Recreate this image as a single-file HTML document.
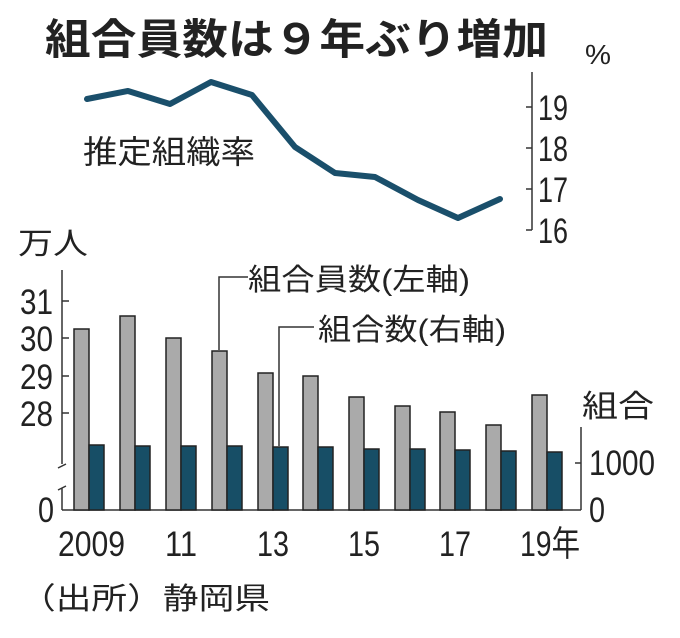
<!DOCTYPE html><html><head><meta charset="utf-8"><style>
body{margin:0;background:#fff}
svg text{font-family:"Liberation Sans","Noto Sans CJK JP",sans-serif;fill:#222}
</style></head><body>
<svg width="680" height="633" viewBox="0 0 680 633" xmlns="http://www.w3.org/2000/svg">
<text x="45" y="54" font-size="42" font-weight="bold" fill="#111" textLength="503" lengthAdjust="spacingAndGlyphs">組合員数は９年ぶり増加</text>
<text x="585" y="64" font-size="28" textLength="26" lengthAdjust="spacingAndGlyphs">%</text>
<polyline fill="none" stroke="#1a4f6b" stroke-width="6" stroke-linejoin="round" stroke-linecap="round" points="87,99 128,91 170,104 211,82 252,95 295,147 335,173 375,177 418,200 458,218 500,199"/>
<text x="83" y="163" font-size="32" textLength="172" lengthAdjust="spacingAndGlyphs">推定組織率</text>
<g stroke="#333" stroke-width="1.5"><line x1="532" y1="72" x2="532" y2="230"/><line x1="526" y1="107" x2="532" y2="107"/><line x1="526" y1="148" x2="532" y2="148"/><line x1="526" y1="189" x2="532" y2="189"/><line x1="526" y1="230" x2="532" y2="230"/></g>
<g font-size="35"><text x="538" y="120" textLength="30" lengthAdjust="spacingAndGlyphs">19</text><text x="538" y="161" textLength="30" lengthAdjust="spacingAndGlyphs">18</text><text x="538" y="202" textLength="30" lengthAdjust="spacingAndGlyphs">17</text><text x="538" y="243" textLength="30" lengthAdjust="spacingAndGlyphs">16</text></g>
<text x="18" y="254" font-size="30" textLength="70" lengthAdjust="spacingAndGlyphs">万人</text>
<g font-size="35"><text x="20" y="314" textLength="33" lengthAdjust="spacingAndGlyphs">31</text><text x="20" y="351" textLength="33" lengthAdjust="spacingAndGlyphs">30</text><text x="20" y="389" textLength="33" lengthAdjust="spacingAndGlyphs">29</text><text x="20" y="426" textLength="33" lengthAdjust="spacingAndGlyphs">28</text><text x="38" y="522" textLength="16" lengthAdjust="spacingAndGlyphs">0</text></g>
<g stroke="#333" stroke-width="1.5" fill="none"><line x1="62" y1="270" x2="62" y2="464"/><path d="M58,468 L66,464"/><path d="M62,488 L62,510 M58,490 L66,486"/><line x1="62" y1="301" x2="69" y2="301"/><line x1="62" y1="338" x2="69" y2="338"/><line x1="62" y1="376" x2="69" y2="376"/><line x1="62" y1="413" x2="69" y2="413"/><line x1="62" y1="510" x2="581" y2="510"/><line x1="581" y1="427" x2="581" y2="510"/><line x1="575" y1="463" x2="581" y2="463"/></g>
<g stroke="#222" stroke-width="1.5">
<g fill="#aaa">
<rect x="74" y="329" width="15" height="181"/><rect x="120" y="316" width="15" height="194"/><rect x="166" y="338" width="15" height="172"/><rect x="212" y="351" width="15" height="159"/><rect x="258" y="373" width="15" height="137"/><rect x="303" y="376" width="15" height="134"/><rect x="349" y="397" width="15" height="113"/><rect x="395" y="406" width="15" height="104"/><rect x="440" y="412" width="15" height="98"/><rect x="486" y="425" width="15" height="85"/><rect x="532" y="395" width="15" height="115"/></g>
<g fill="#174e66">
<rect x="89" y="445" width="15" height="65"/><rect x="135" y="446" width="15" height="64"/><rect x="181" y="446" width="15" height="64"/><rect x="227" y="446" width="15" height="64"/><rect x="273" y="447" width="15" height="63"/><rect x="318" y="447" width="15" height="63"/><rect x="364" y="449" width="15" height="61"/><rect x="410" y="449" width="15" height="61"/><rect x="455" y="450" width="15" height="60"/><rect x="501" y="451" width="15" height="59"/><rect x="547" y="452" width="15" height="58"/></g>
</g>
<g stroke="#333" stroke-width="1.5" fill="none"><path d="M219,350 L219,277 L248,277"/><path d="M279,446 L279,327 L314,327"/></g>
<text x="248" y="290" font-size="30" textLength="222" lengthAdjust="spacingAndGlyphs">組合員数(左軸)</text>
<text x="318" y="340" font-size="30" textLength="188" lengthAdjust="spacingAndGlyphs">組合数(右軸)</text>
<text x="582" y="417" font-size="31" textLength="72" lengthAdjust="spacingAndGlyphs">組合</text>
<g font-size="35"><text x="589" y="475" textLength="66" lengthAdjust="spacingAndGlyphs">1000</text><text x="589" y="522" textLength="16" lengthAdjust="spacingAndGlyphs">0</text></g>
<g font-size="35"><text x="58" y="556" textLength="67" lengthAdjust="spacingAndGlyphs">2009</text><text x="165" y="556" textLength="32" lengthAdjust="spacingAndGlyphs">11</text><text x="257" y="556" textLength="32" lengthAdjust="spacingAndGlyphs">13</text><text x="348" y="556" textLength="32" lengthAdjust="spacingAndGlyphs">15</text><text x="439" y="556" textLength="32" lengthAdjust="spacingAndGlyphs">17</text><text x="520" y="556" textLength="60" lengthAdjust="spacingAndGlyphs">19年</text></g>
<text x="20" y="609" font-size="30" textLength="250" lengthAdjust="spacingAndGlyphs">（出所）静岡県</text>
</svg>
</body></html>
